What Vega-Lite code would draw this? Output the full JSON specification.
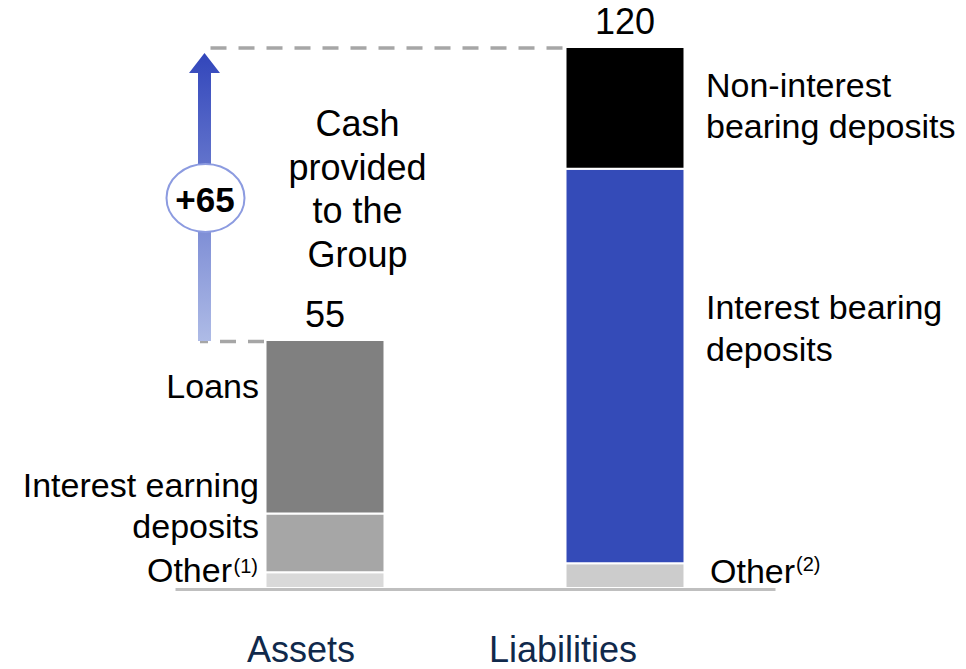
{
  "$schema": "https://vega.github.io/schema/vega-lite/v6.json",
  "width": 966,
  "height": 588,
  "autosize": {"type": "none"},
  "padding": {"left": 0, "top": 0, "right": 0, "bottom": 81},
  "background": "white",
  "config": {
    "view": {"stroke": null},
    "font": "Liberation Sans",
    "text": {"font": "Liberation Sans", "fontSize": 34, "color": "black", "baseline": "alphabetic"}
  },
  "datasets": {
    "segments": [
      {"category": "Assets", "segment": "Other (1)", "value": 3.5, "order": 1},
      {"category": "Assets", "segment": "Interest earning deposits", "value": 13, "order": 2},
      {"category": "Assets", "segment": "Loans", "value": 38.5, "order": 3},
      {"category": "Liabilities", "segment": "Other (2)", "value": 5.5, "order": 1},
      {"category": "Liabilities", "segment": "Interest bearing deposits", "value": 87.5, "order": 2},
      {"category": "Liabilities", "segment": "Non-interest bearing deposits", "value": 27, "order": 3}
    ]
  },
  "layer": [
    {
      "data": {"name": "segments"},
      "mark": {"type": "bar", "width": 119, "stroke": "white", "strokeWidth": 2},
      "encoding": {
        "x": {
          "field": "category", "type": "nominal",
          "scale": {"domain": ["Assets", "Liabilities"], "range": [175, 775], "paddingInner": 0, "paddingOuter": 0},
          "axis": {
            "title": null, "labelAngle": 0, "ticks": false, "tickSize": 0,
            "domainColor": "#bfbfbf", "domainWidth": 3, "offset": 1, "zindex": 1,
            "labelFont": "Liberation Sans", "labelFontSize": 36, "labelColor": "#10294b",
            "labelBaseline": "alphabetic", "labelPadding": 72,
            "labelOffset": {"condition": {"test": "datum.value === 'Assets'", "value": -24}, "value": -62}
          }
        },
        "y": {
          "field": "value", "type": "quantitative", "stack": "zero",
          "scale": {"domain": [0, 130.43], "nice": false, "zero": true},
          "axis": null
        },
        "color": {
          "field": "segment", "type": "nominal", "legend": null,
          "scale": {
            "domain": ["Loans", "Interest earning deposits", "Other (1)", "Non-interest bearing deposits", "Interest bearing deposits", "Other (2)"],
            "range": ["#808080", "#a6a6a6", "#d9d9d9", "#000000", "#344bb8", "#cccccc"]
          }
        },
        "order": {"field": "order", "type": "quantitative"}
      }
    },
    {
      "data": {"name": "segments"},
      "transform": [{"aggregate": [{"op": "sum", "field": "value", "as": "total"}], "groupby": ["category"]}],
      "mark": {"type": "text", "fontSize": 36, "dy": -13, "align": "center"},
      "encoding": {
        "x": {"field": "category", "type": "nominal"},
        "y": {"field": "total", "type": "quantitative", "axis": null},
        "text": {"field": "total", "type": "quantitative"}
      }
    },
    {
      "data": {"values": [{}]},
      "mark": {"type": "rule", "color": "#a6a6a6", "strokeWidth": 3.5, "strokeDash": [16, 12], "xOffset": -114.5, "x2Offset": -59},
      "encoding": {
        "x": {"datum": "Assets", "type": "nominal"},
        "x2": {"datum": "Liabilities"},
        "y": {"datum": 119.8, "type": "quantitative", "axis": null}
      }
    },
    {
      "data": {"values": [{}]},
      "mark": {"type": "rule", "color": "#a6a6a6", "strokeWidth": 3.5, "strokeDash": [16, 12], "strokeDashOffset": 8, "xOffset": -125, "x2Offset": -59},
      "encoding": {
        "x": {"datum": "Assets", "type": "nominal"},
        "x2": {"datum": "Assets"},
        "y": {"datum": 54.7, "type": "quantitative", "axis": null}
      }
    },
    {
      "data": {"values": [{}]},
      "mark": {
        "type": "point", "filled": true, "opacity": 1, "strokeWidth": 0, "xOffset": -120.5, "size": 82944,
        "shape": "M-0.0451,1 L0.0451,1 L0.0451,-0.861 L0.1076,-0.861 L0,-1 L-0.1076,-0.861 L-0.0451,-0.861 Z",
        "fill": {
          "gradient": "linear", "x1": 0, "y1": 0, "x2": 0, "y2": 1,
          "stops": [{"offset": 0, "color": "#3246bb"}, {"offset": 1, "color": "#aebbe6"}]
        }
      },
      "encoding": {
        "x": {"datum": "Assets", "type": "nominal"},
        "y": {"datum": 86.73, "type": "quantitative", "axis": null}
      }
    },
    {
      "data": {"values": [{}]},
      "mark": {
        "type": "point", "filled": true, "opacity": 1, "fill": "white", "stroke": "#8c9be0", "strokeWidth": 2,
        "xOffset": -119.5, "size": 6084,
        "shape": "M-1,0 A1,0.872 0 1,1 1,0 A1,0.872 0 1,1 -1,0 Z"
      },
      "encoding": {
        "x": {"datum": "Assets", "type": "nominal"},
        "y": {"datum": 86.51, "type": "quantitative", "axis": null}
      }
    },
    {
      "data": {"values": [{}]},
      "mark": {"type": "text", "text": "+65", "fontSize": 35, "fontWeight": "bold", "align": "center", "dx": -120},
      "encoding": {
        "x": {"datum": "Assets", "type": "nominal"},
        "y": {"datum": 83.4, "type": "quantitative", "axis": null}
      }
    },
    {
      "data": {"values": [{}]},
      "mark": {"type": "text", "text": ["Cash", "provided", "to the", "Group"], "fontSize": 36, "lineHeight": 43.7, "align": "center", "dx": 32.5},
      "encoding": {
        "x": {"datum": "Assets", "type": "nominal"},
        "y": {"datum": 100.26, "type": "quantitative", "axis": null}
      }
    },
    {
      "data": {"values": [{}]},
      "mark": {"type": "text", "text": "Loans", "align": "right", "dx": -66},
      "encoding": {
        "x": {"datum": "Assets", "type": "nominal"},
        "y": {"datum": 42.15, "type": "quantitative", "axis": null}
      }
    },
    {
      "data": {"values": [{}]},
      "mark": {"type": "text", "text": ["Interest earning", "deposits"], "lineHeight": 41, "align": "right", "dx": -66},
      "encoding": {
        "x": {"datum": "Assets", "type": "nominal"},
        "y": {"datum": 20.19, "type": "quantitative", "axis": null}
      }
    },
    {
      "data": {"values": [{}]},
      "mark": {"type": "text", "text": "Other", "align": "right", "dx": -93},
      "encoding": {
        "x": {"datum": "Assets", "type": "nominal"},
        "y": {"datum": 1.33, "type": "quantitative", "axis": null}
      }
    },
    {
      "data": {"values": [{}]},
      "mark": {"type": "text", "text": "(1)", "fontSize": 20, "align": "right", "dx": -67},
      "encoding": {
        "x": {"datum": "Assets", "type": "nominal"},
        "y": {"datum": 3.33, "type": "quantitative", "axis": null}
      }
    },
    {
      "data": {"values": [{}]},
      "mark": {"type": "text", "text": ["Non-interest", "bearing deposits"], "lineHeight": 40.5, "align": "left", "dx": 81},
      "encoding": {
        "x": {"datum": "Liabilities", "type": "nominal"},
        "y": {"datum": 108.9, "type": "quantitative", "axis": null}
      }
    },
    {
      "data": {"values": [{}]},
      "mark": {"type": "text", "text": ["Interest bearing", "deposits"], "lineHeight": 42.5, "align": "left", "dx": 81},
      "encoding": {
        "x": {"datum": "Liabilities", "type": "nominal"},
        "y": {"datum": 59.67, "type": "quantitative", "axis": null}
      }
    },
    {
      "data": {"values": [{}]},
      "mark": {"type": "text", "text": "Other", "align": "left", "dx": 85},
      "encoding": {
        "x": {"datum": "Liabilities", "type": "nominal"},
        "y": {"datum": 1.22, "type": "quantitative", "axis": null}
      }
    },
    {
      "data": {"values": [{}]},
      "mark": {"type": "text", "text": "(2)", "fontSize": 20, "align": "left", "dx": 171},
      "encoding": {
        "x": {"datum": "Liabilities", "type": "nominal"},
        "y": {"datum": 3.77, "type": "quantitative", "axis": null}
      }
    }
  ]
}
